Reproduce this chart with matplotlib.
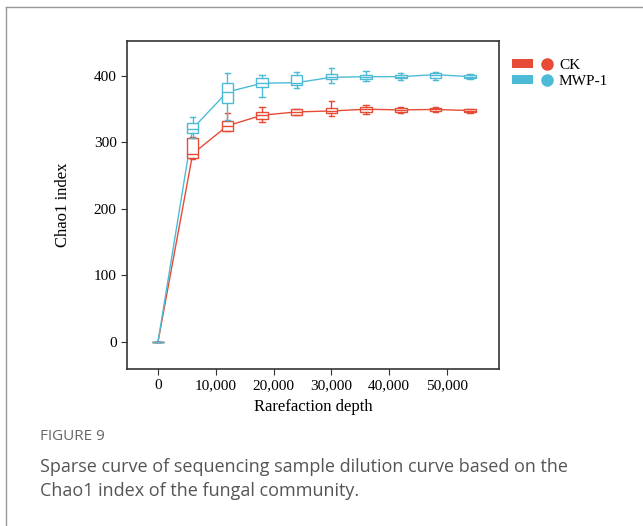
import matplotlib
matplotlib.use('Agg')
import matplotlib.pyplot as plt
from matplotlib.lines import Line2D
from matplotlib.patches import Patch
from matplotlib.legend_handler import HandlerTuple

# rarefaction depths
depth = [0, 6000, 12000, 18000, 24000, 30000, 36000, 42000, 48000, 54000]

# CK box stats
ck_lo  = [0, 275, 317, 331, 341, 340, 342.5, 345, 346, 345]
ck_q1  = [0, 276, 318, 335, 341.5, 344, 345.5, 346, 347.4, 346]
ck_med = [0, 283, 325, 341, 346, 347.4, 350, 349, 349.7, 348]
ck_q3  = [0, 307, 332, 346, 350, 351.4, 354, 352, 351.4, 350.4]
ck_hi  = [0, 308, 345, 354, 350.5, 363, 356, 354, 353, 350.4]

# MWP-1 box stats
mw_lo  = [0, 307, 334, 368, 381.5, 389, 392.5, 394, 394, 395.5]
mw_q1  = [0, 315, 359, 384, 386.5, 395, 395.5, 396.5, 396.5, 396.5]
mw_med = [0, 321, 376, 389, 390, 398, 399, 399, 402, 399]
mw_q3  = [0, 329, 389, 396.5, 401.5, 402.5, 402, 401.5, 404, 401.5]
mw_hi  = [0, 338, 404, 401.5, 406.5, 411.5, 408, 404, 405.5, 403]

groups = ['CK', 'MWP-1']
colors = ['#E64B35', '#4DBBD5']

plt.rcParams['font.family'] = ['Liberation Serif', 'DejaVu Serif']

fig = plt.figure(figsize=(6.43, 5.26), dpi=100)
ax = fig.add_axes([127/643, 1 - 369/526, (499-127)/643, (369-41)/526])

series = [(ck_lo, ck_q1, ck_med, ck_q3, ck_hi), (mw_lo, mw_q1, mw_med, mw_q3, mw_hi)]
for (lo, q1, med, q3, hi), c in zip(series, colors):
    stats = [dict(whislo=a, q1=b, med=m, q3=d, whishi=e, fliers=[])
             for a, b, m, d, e in zip(lo, q1, med, q3, hi)]
    ax.plot(depth, med, color=c, lw=1, zorder=2)
    ax.bxp(stats, positions=depth, widths=2000, patch_artist=True,
           showfliers=False, manage_ticks=False,
           boxprops=dict(facecolor='white', edgecolor=c, lw=1),
           medianprops=dict(color=c, lw=1),
           whiskerprops=dict(color=c, lw=1),
           capprops=dict(color=c, lw=1), capwidths=900, zorder=3)

ax.set_xlim(-5360, 59000)
ax.set_ylim(-40.6, 452.6)
ax.set_xticks([0, 10000, 20000, 30000, 40000, 50000])
ax.set_xticklabels(['0', '10,000', '20,000', '30,000', '40,000', '50,000'])
ax.set_yticks([0, 100, 200, 300, 400])
ax.tick_params(labelsize=11, length=4, color='#333333', labelcolor='black')
for s in ax.spines.values():
    s.set_color('#333333')
    s.set_linewidth(1.2)
ax.set_xlabel('Rarefaction depth', fontsize=12, labelpad=5)
ax.set_ylabel('Chao1 index', fontsize=12, labelpad=16)

handles = [(Patch(facecolor=c, edgecolor='none'),
            Line2D([], [], marker='o', ls='', color=c, markersize=8)) for c in colors]
fig.legend(handles, groups, loc='upper left', bbox_to_anchor=(504/643, 1 - 51/526),
           frameon=False, fontsize=11, handlelength=3.0, handleheight=0.5,
           handletextpad=0.1, labelspacing=0.2, borderpad=0,
           handler_map={tuple: HandlerTuple(ndivide=None, pad=0.2)})

# page frame
fig.add_artist(Line2D([6/643, 1], [1 - 7/526, 1 - 7/526], color='#999999', lw=1))
fig.add_artist(Line2D([6/643, 6/643], [0, 1 - 7/526], color='#999999', lw=1))

fig.text(40/643, 1 - 437/526, 'FIGURE 9', family='Open Sans', fontsize=11,
         color='#666666', va='center')
fig.text(40/643, 1 - 467/526, 'Sparse curve of sequencing sample dilution curve based on the',
         family='Open Sans', fontsize=13, color='#555555', va='center')
fig.text(40/643, 1 - 491/526, 'Chao1 index of the fungal community.',
         family='Open Sans', fontsize=13, color='#555555', va='center')

fig.savefig('out.png', dpi=100)
